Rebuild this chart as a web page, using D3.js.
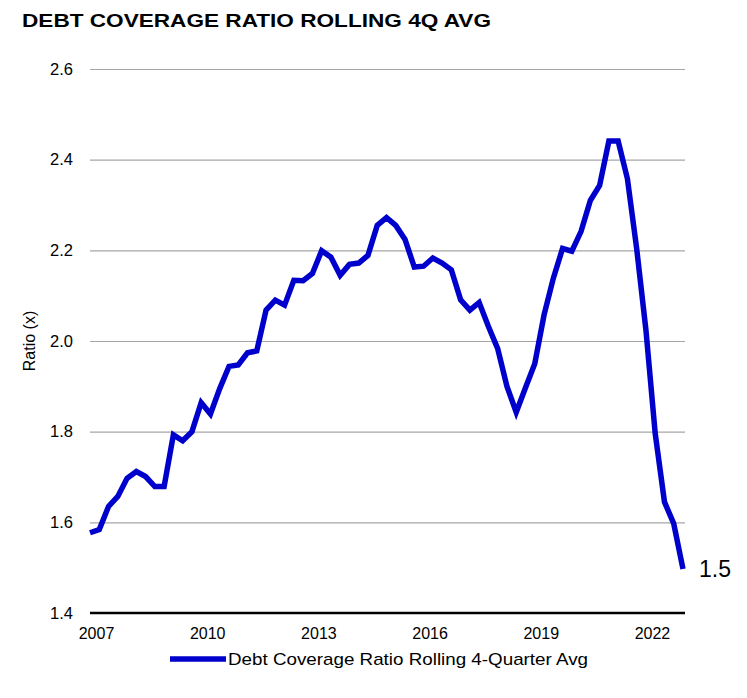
<!DOCTYPE html>
<html>
<head>
<meta charset="utf-8">
<style>
  body { margin: 0; background: #fff; }
  svg { font-family: "Liberation Sans", Arial, sans-serif; }
</style>
</head>
<body>
<div id="chart"></div>
<script src="https://cdn.jsdelivr.net/npm/d3@7"></script>
<script>
// quarterly values, 2007 Q1 .. 2023 Q1
var quarters = d3.range(65).map(function(i) {
  return (2007 + Math.floor(i / 4)) + "Q" + (i % 4 + 1);
});
var ratios = [
  1.577, 1.584, 1.635, 1.657, 1.697, 1.712, 1.701, 1.679, 1.679, 1.793,
  1.780, 1.800, 1.864, 1.839, 1.895, 1.944, 1.947, 1.974, 1.978, 2.068,
  2.090, 2.079, 2.134, 2.133, 2.149, 2.199, 2.185, 2.145, 2.169, 2.172,
  2.189, 2.255, 2.272, 2.255, 2.224, 2.163, 2.165, 2.183, 2.172, 2.157,
  2.091, 2.068, 2.085, 2.032, 1.983, 1.900, 1.843, 1.897, 1.950, 2.057,
  2.138, 2.204, 2.198, 2.242, 2.310, 2.343, 2.441, 2.441, 2.358, 2.204,
  2.024, 1.796, 1.645, 1.597, 1.497
];
var yearTicks = ["2007Q1", "2010Q1", "2013Q1", "2016Q1", "2019Q1", "2022Q1"];
var yTicks = [1.4, 1.6, 1.8, 2.0, 2.2, 2.4, 2.6];

var width = 747, height = 698;
var m = {left: 90, right: 683, top: 69, bottom: 613};

var svg = d3.select("#chart").append("svg")
  .attr("width", width)
  .attr("height", height);

var x = d3.scalePoint().domain(quarters).range([m.left, m.right]);
var y = d3.scaleLinear().domain([1.4, 2.6]).range([m.bottom, m.top]);

// title
svg.append("text")
  .attr("x", 22).attr("y", 27)
  .attr("font-weight", "bold")
  .attr("font-size", 17.5)
  .attr("textLength", 469)
  .attr("lengthAdjust", "spacingAndGlyphs")
  .text("DEBT COVERAGE RATIO ROLLING 4Q AVG");

// gridlines + y labels
var yAxis = svg.append("g")
  .attr("transform", "translate(" + m.left + ",0)")
  .call(d3.axisLeft(y).tickValues(yTicks).tickSize(-(m.right - m.left + 2)).tickPadding(17)
    .tickFormat(d3.format(".1f")));
yAxis.select(".domain").remove();
yAxis.selectAll(".tick line").attr("stroke", "#a6a6a6").attr("stroke-width", 1.2);
yAxis.selectAll(".tick text").attr("font-size", 16.5).attr("fill", "#000");

// x axis
var xAxis = svg.append("g")
  .attr("transform", "translate(0," + m.bottom + ")")
  .call(d3.axisBottom(x).tickValues(yearTicks).tickSize(0).tickPadding(15)
    .tickFormat(function(d) { return d.slice(0, 4); }));
xAxis.select(".domain").remove();
xAxis.selectAll(".tick text").attr("font-size", 16).attr("fill", "#000")
  .attr("dx", 6);
svg.append("line")
  .attr("x1", m.left).attr("x2", m.right + 2)
  .attr("y1", y(1.4)).attr("y2", y(1.4))
  .attr("stroke", "#000").attr("stroke-width", 2.5);

// y title
svg.append("text")
  .attr("transform", "translate(35," + y(2.0) + ") rotate(-90)")
  .attr("text-anchor", "middle")
  .attr("font-size", 16)
  .text("Ratio (x)");

// series line
var line = d3.line()
  .x(function(d, i) { return x(quarters[i]); })
  .y(function(d) { return y(d); });
svg.append("path")
  .datum(ratios)
  .attr("fill", "none")
  .attr("stroke", "#0000cc")
  .attr("stroke-width", 5.5)
  .attr("stroke-linejoin", "miter")
  .attr("d", line);

// end label
svg.append("text")
  .attr("x", x(quarters[quarters.length - 1]) + 16)
  .attr("y", y(ratios[ratios.length - 1]) + 8)
  .attr("font-size", 23)
  .text(d3.format(".1f")(ratios[ratios.length - 1]));

// legend
var lg = svg.append("g").attr("transform", "translate(170,659)");
lg.append("line")
  .attr("x1", 0).attr("x2", 56)
  .attr("stroke", "#0000cc").attr("stroke-width", 5.5);
lg.append("text")
  .attr("x", 58).attr("y", 6)
  .attr("font-size", 17)
  .attr("textLength", 360)
  .attr("lengthAdjust", "spacingAndGlyphs")
  .text("Debt Coverage Ratio Rolling 4-Quarter Avg");
</script>
</body>
</html>
